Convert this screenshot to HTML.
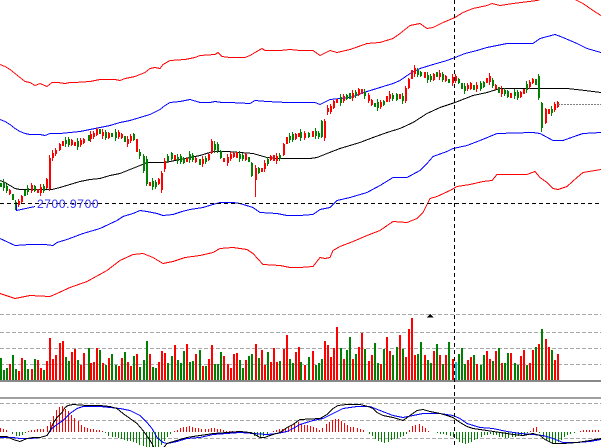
<!DOCTYPE html>
<html><head><meta charset="utf-8">
<style>
html,body{margin:0;padding:0;background:#fff;overflow:hidden;}
svg{display:block;}
</style></head>
<body>
<svg id="c" width="601" height="447" viewBox="0 0 601 447" xmlns="http://www.w3.org/2000/svg">
<rect width="601" height="447" fill="#fff"/>
<g id="grid"></g>
<g id="bands" shape-rendering="crispEdges"></g>
<g id="candles" shape-rendering="crispEdges"></g>
<g id="vol" shape-rendering="crispEdges"></g>
<g id="macd" shape-rendering="crispEdges"></g>
<g id="cross" shape-rendering="crispEdges">
<line x1="0" y1="203.5" x2="601" y2="203.5" stroke="#000" stroke-width="1" stroke-dasharray="4,3"/>
<line x1="454.5" y1="0" x2="454.5" y2="447" stroke="#000" stroke-width="1" stroke-dasharray="4,3"/>
<line x1="558" y1="104.5" x2="601" y2="104.5" stroke="#808080" stroke-width="1" stroke-dasharray="2,1"/>
<polyline points="16.5,205 16.5,210.5 35,206.5" fill="none" stroke="#0000ff" stroke-width="1"/>
<polygon points="427,317.5 433.5,317.5 430.2,314" fill="#000"/>
</g>
<text x="37" y="208" font-family="Liberation Sans, sans-serif" font-size="12" fill="#3030ff" letter-spacing="0.6">2700.9700</text>
</svg>
<script>
(function(){
function interp(p,x){if(x<=p[0][0])return p[0][1];for(var i=1;i<p.length;i++){if(x<=p[i][0]){var a=p[i-1],b=p[i];return a[1]+(b[1]-a[1])*(x-a[0])/(b[0]-a[0]);}}return p[p.length-1][1];}
function poly(p,c){return '<polyline fill="none" stroke="'+c+'" stroke-width="1" points="'+p.map(function(q){return q[0]+','+(q[1]+0.5);}).join(' ')+'"/>';}
var COL={r:'#ff0000',g:'#008000',c:'#00c8c8'};

var g='';
[314,332,348,364,403,420,438].forEach(function(y){g+='<line x1="0" y1="'+(y+0.5)+'" x2="601" y2="'+(y+0.5)+'" stroke="#a8a8a8" stroke-width="1" stroke-dasharray="4,2" shape-rendering="crispEdges"/>';});
g+='<rect x="0" y="380" width="601" height="2" fill="#888"/>';
g+='<rect x="0" y="397" width="601" height="2" fill="#a0a0a0"/>';
document.getElementById('grid').innerHTML=g;

var upR=[[0,64],[5,66],[10,69],[15,73],[20,77],[25,81],[30,82],[35,85],[40,83],[47,86],[52,82],[58,82],[65,83],[70,82],[75,82],[90,81],[95,80],[100,79],[115,79],[120,80],[125,78],[130,77],[135,76],[140,74],[145,72],[150,68],[155,67],[160,68],[163,64],[170,60],[185,59],[195,57],[200,55],[215,54],[218,52],[222,56],[230,57],[245,57],[250,55],[255,52],[262,48],[265,50],[270,50],[280,50],[290,49],[300,50],[313,50],[320,55],[330,50],[337,52],[350,49],[367,43],[380,42],[393,38],[400,33],[410,25],[420,23],[427,28],[433,27],[443,22],[455,17],[463,12],[473,8],[487,5],[492,3],[500,5],[513,3],[537,0],[550,-4],[570,-4],[577,0],[583,3],[593,10],[601,15]];
var upB=[[0,119],[5,121],[10,124],[15,128],[20,131],[25,133],[30,134],[40,134],[45,135],[50,133],[60,133],[70,132],[80,131],[90,129],[95,128],[100,127],[110,125],[120,122],[130,120],[140,117],[150,114],[160,109],[165,105],[170,102],[180,101],[190,99],[200,102],[210,102],[215,101],[222,102],[230,102],[250,103],[255,100],[267,101],[287,102],[300,102],[315,102],[320,104],[330,99],[350,97],[367,91],[380,87],[393,83],[400,80],[410,73],[420,68],[433,64],[447,60],[455,57],[465,53],[477,50],[487,47],[507,43],[533,43],[540,38],[555,34],[563,37],[577,43],[587,48],[601,52]];
var mid=[[0,180],[5,182],[10,185],[15,188],[20,189],[52,189],[60,187],[70,184],[80,181],[90,179],[100,178],[110,175],[120,173],[130,169],[140,165],[147,162],[165,162],[170,161],[180,159],[190,157],[200,155],[213,151],[227,151],[253,153],[267,157],[277,158],[310,158],[317,157],[327,153],[340,148],[360,142],[373,137],[387,132],[400,128],[413,122],[427,113],[440,107],[455,102],[473,95],[487,92],[500,88],[540,88],[567,88],[585,90],[601,92]];
var loB=[[0,238],[15,245],[30,244],[45,244],[53,245],[57,242],[67,239],[83,233],[100,228],[117,220],[123,216],[133,213],[140,210],[147,211],[157,213],[163,215],[173,214],[182,211],[190,209],[203,207],[213,204],[220,202],[233,202],[240,203],[253,207],[260,212],[277,213],[287,215],[300,215],[313,214],[320,209],[325,208],[330,207],[337,200],[350,197],[367,192],[380,185],[393,177],[407,177],[420,170],[427,163],[433,156],[447,151],[453,148],[467,145],[480,140],[497,133],[533,132],[540,133],[553,140],[563,140],[577,135],[583,133],[601,132]];
var loR=[[0,293],[15,298],[30,295],[50,296],[57,293],[70,287],[87,281],[107,270],[120,260],[133,254],[143,253],[153,257],[163,263],[173,261],[185,257],[200,255],[213,252],[220,248],[233,247],[247,249],[253,253],[263,264],[280,265],[290,267],[300,267],[313,266],[320,257],[325,258],[330,257],[333,250],[340,246],[353,241],[367,235],[380,230],[393,221],[407,222],[417,218],[423,212],[430,198],[437,196],[450,190],[457,186],[470,184],[483,181],[492,180],[497,174],[527,174],[535,171],[540,177],[547,182],[553,188],[558,189],[567,186],[577,177],[583,172],[601,169]];
document.getElementById('bands').innerHTML=poly(upR,'#ff0000')+poly(upB,'#0000ff')+poly(mid,'#000000')+poly(loB,'#0000ff')+poly(loR,'#ff0000');

var V2="0:175g 10:210g 19:205g 28:192r 37:165g 46:207g 55:213r 64:175r 73:180g 82:207g 94:207r 103:178g 112:180r 121:205r 130:210g 139:183r 148:114r 157:177r 166:165r 178:129r 187:124r 196:171g 205:183g 214:157r 223:147r 232:180g 241:195r 250:159r 263:144g 270:189r 280:185r 289:144r 298:150g 307:190r 316:195g 325:174r 334:162g 346:194g 355:198r 364:174r 373:156g 382:187r 391:197r 400:168g 409:162r 418:201g 430:180g 439:123g 448:162r 457:200g 466:205g 475:185r 484:153r 493:160r 502:188g 514:168g 523:135r 532:180g 541:188g 550:153g 559:131r 568:185g 577:183g 586:163r 598:150g 607:197r 616:197g 625:178r 634:135r 643:192g 652:192g 661:156g 670:168r 682:192r 691:205r 700:162r 709:159r 718:180g 727:205g 736:180r 745:168g 754:162g 766:131r 775:173g 784:150r 793:195r 802:157g 811:187r 820:144r 829:186r 838:183g 850:147r 859:104r 868:177g 877:188g 886:156r 895:141r";
var V3="0:186g 12:195r 24:171g 36:153r 45:195g 54:189g 63:177g 72:123r 81:135r 90:171r 99:144r 108:81r 120:144g 129:177r 138:150g 147:111g 156:177r 165:162g 174:141r 183:99r 192:147g 204:183r 213:165r 222:129g 231:189g 240:192r 249:147g 258:111r 267:153r 276:165g 288:141g 297:105r 306:147g 315:171r 324:87r 333:54r 342:165r 351:162g 360:126g 372:165r 381:180g 390:189g 399:153r 408:132g 417:165r 426:192g 435:165r 444:126g 456:177r 465:186c 474:162g 483:144g 492:192g 501:180r 510:171r 519:165g 528:192r 540:195g 549:165g 558:153r 567:177r 576:183g 585:153r 594:144g 603:189r 612:189g 621:159g 630:159r 642:189g 651:195g 660:168r 669:150r 678:195g 687:189r 696:150r 705:141g 714:132r 723:87g 735:117r 744:141r 753:150g 762:180r 771:162r";
function parseV(s,off){return s.trim().split(/\s+/).map(function(t){var m=t.match(/(\d+):(\d+)([rgc])/);return {x:off+(+m[1])/3,y:300+(+m[2])/3,c:m[3]};});}
var vols=parseV(V2,0).concat(parseV(V3,300));
var vh='';
vols.forEach(function(v){var x=Math.round(v.x),t=Math.round(v.y);vh+='<rect x="'+x+'" y="'+t+'" width="2" height="'+(380-t)+'" fill="'+COL[v.c]+'"/>';});
document.getElementById('vol').innerHTML=vh;

var closeP=[[1,183],[4,186],[7,190],[10,194],[12,199],[15,203],[17,206],[20,200],[22,196],[25,190],[28,189],[31,188],[34,186],[37,194],[40,189],[43,187],[46,189],[49,158],[52,155],[55,152],[58,147],[61,143],[64,141],[67,142],[70,141],[73,144],[76,145],[79,142],[82,141],[85,139],[88,138],[91,135],[94,134],[97,130],[100,133],[103,134],[106,136],[109,135],[112,134],[115,136],[118,133],[121,136],[124,140],[127,143],[130,137],[133,133],[136,151],[139,155],[142,157],[146,184],[149,184],[152,183],[155,185],[158,183],[161,172],[164,163],[167,157],[170,155],[173,156],[176,160],[179,158],[182,160],[185,163],[188,155],[191,157],[194,160],[197,162],[200,162],[203,161],[206,159],[209,155],[211,154],[214,141],[217,149],[220,156],[223,163],[226,160],[229,157],[232,154],[235,154],[238,156],[241,157],[244,157],[247,158],[250,163],[253,176],[256,168],[259,172],[262,168],[265,163],[268,159],[271,157],[274,158],[277,159],[280,155],[283,147],[286,137],[289,138],[292,137],[295,136],[298,134],[301,135],[304,137],[307,136],[310,133],[313,133],[316,133],[319,137],[322,121],[325,110],[328,109],[331,108],[334,101],[337,101],[340,99],[343,99],[346,97],[349,95],[352,96],[355,94],[358,92],[361,90],[364,96],[367,97],[370,101],[373,106],[376,104],[379,106],[382,103],[385,100],[388,94],[391,97],[394,98],[397,96],[400,96],[403,101],[406,88],[409,79],[412,70],[415,72],[418,73],[421,74],[424,76],[427,78],[430,79],[433,77],[436,73],[439,76],[442,76],[445,79],[448,81],[451,82],[454,76],[457,80],[460,85],[463,90],[466,88],[469,84],[472,88],[475,88],[478,85],[481,86],[484,83],[487,78],[490,80],[493,86],[496,88],[499,91],[502,92],[505,92],[508,95],[511,95],[514,93],[517,95],[520,96],[523,90],[526,86],[529,84],[532,81],[535,76],[538,99],[541,128],[544,112],[547,108],[550,116],[553,106],[556,104]];
var ovr=[[49,158,189,155,191,'r'],[146,159,184,156,186,'g'],[161,173,190,171,193,'r'],[211,141,153,139,154,'r'],[252,163,176,162,177,'g'],[255,168,180,165,197,'r'],[324,121,138,119,141,'r'],[538,76,98,74,100,'g'],[541,103,128,102,132,'g'],[16,202,207,200,210,'g']];
var ch='';var prev=null;
vols.forEach(function(v,i){
  var x=Math.round(v.x);
  var c=interp(closeP,x+1);
  var p=(prev===null)?c+3:prev;prev=c;
  var top=Math.min(c,p),bot=Math.max(c,p);
  var mn=4+((i*5)%3);
  if(bot-top<mn){var m=(top+bot)/2;top=m-mn/2;bot=m+mn/2;}
  top=Math.round(top);bot=Math.round(bot);
  var wt=top-((i*7)%4),wb=bot+((i*11)%4);
  var col=v.c==='c'?'r':v.c;
  for(var k=0;k<ovr.length;k++){if(Math.abs(ovr[k][0]-v.x)<1.6){top=ovr[k][1];bot=ovr[k][2];wt=ovr[k][3];wb=ovr[k][4];col=ovr[k][5];}}
  ch+='<rect x="'+x+'" y="'+wt+'" width="1" height="'+(wb-wt)+'" fill="'+COL[col]+'"/>';
  ch+='<rect x="'+x+'" y="'+top+'" width="2" height="'+(bot-top)+'" fill="'+COL[col]+'"/>';
});
document.getElementById('candles').innerHTML=ch;

var hist=[[0,-4],[4,-3],[8,-1],[12,2],[16,4],[20,4],[24,2],[28,-1],[32,-2],[38,-3],[44,-3],[47,-6],[50,-11],[53,-17],[56,-22],[59,-25],[62,-26],[64,-22],[67,-24],[69,-19],[72,-17],[74,-14],[77,-11],[80,-8],[83,-5],[86,-4],[92,-3],[98,-2],[103,-1],[107,3],[112,5],[118,6],[123,8],[128,9],[133,10],[138,12],[143,14],[148,15],[155,16],[160,15],[163,11],[166,6],[170,2],[174,-1],[178,-3],[183,-5],[190,-6],[195,-4],[205,-3],[212,-4],[220,-3],[228,-1],[240,-1],[250,1],[255,4],[260,5],[265,3],[270,0],[275,-2],[282,-3],[290,-6],[297,-10],[300,-8],[307,-7],[313,-5],[317,-4],[320,-2],[323,-5],[327,-9],[331,-12],[338,-13],[343,-10],[347,-7],[351,-5],[357,-4],[363,-2],[367,1],[370,2],[373,5],[377,8],[383,11],[387,10],[390,8],[395,6],[400,5],[405,3],[408,0],[412,-6],[415,-7],[418,-8],[422,-6],[425,-4],[428,-1],[432,0],[440,2],[447,3],[453,5],[457,8],[460,11],[465,12],[470,11],[473,8],[477,7],[480,5],[484,3],[490,2],[495,3],[500,5],[507,6],[515,5],[522,3],[528,1],[533,-4],[537,-5],[540,2],[544,6],[548,10],[553,12],[558,10],[563,6],[567,3],[572,1],[577,0],[582,-2],[601,-2]];
var mh='';
for(var x=0;x<=600;x+=3.1){
  var v=interp(hist,x);if(Math.abs(v)<0.6)continue;
  var xx=Math.round(x),h=Math.round(Math.abs(v));
  if(v<0)mh+='<rect x="'+xx+'" y="'+(432-h)+'" width="1" height="'+h+'" fill="#ff0000"/>';
  else mh+='<rect x="'+xx+'" y="432" width="1" height="'+h+'" fill="#008000"/>';
}
var dif=[[0,436],[7,436],[13,439],[20,441],[27,438],[33,437],[40,437],[47,435],[50,430],[53,423],[57,417],[62,412],[65,407],[68,405],[73,404],[87,405],[100,405],[110,406],[117,408],[123,413],[130,418],[137,423],[143,430],[148,437],[152,443],[155,449],[162,449],[167,443],[170,442],[180,439],[187,437],[193,436],[207,434],[213,433],[227,432],[240,431],[250,432],[253,433],[260,437],[265,437],[267,436],[273,434],[280,432],[287,427],[293,424],[300,419],[320,418],[327,414],[333,408],[338,405],[347,404],[360,404],[368,406],[373,408],[377,412],[383,415],[393,417],[403,420],[410,415],[417,410],[423,409],[430,411],[440,413],[447,415],[453,417],[460,422],[467,426],[473,428],[487,430],[500,432],[513,434],[523,435],[533,433],[540,435],[545,439],[553,443],[563,443],[577,442],[590,440],[601,438]];
var dea=[[0,437],[13,437],[20,438],[30,438],[40,437],[47,435],[52,428],[57,424],[63,420],[70,413],[77,408],[83,406],[100,406],[110,407],[120,408],[130,410],[140,415],[147,422],[152,428],[157,437],[163,442],[167,443],[177,441],[187,438],[200,437],[213,434],[227,433],[240,432],[253,433],[267,434],[277,433],[287,431],[293,428],[300,424],[313,420],[323,418],[333,413],[343,408],[357,406],[370,406],[380,410],[393,415],[403,417],[413,415],[423,413],[440,413],[453,415],[460,418],[467,423],[480,427],[493,428],[507,431],[520,433],[533,434],[543,435],[553,438],[563,442],[577,442],[590,441],[601,439]];
mh+=poly(dea,'#0000ff')+poly(dif,'#000000');
document.getElementById('macd').innerHTML=mh;
})();
</script>
</body></html>
